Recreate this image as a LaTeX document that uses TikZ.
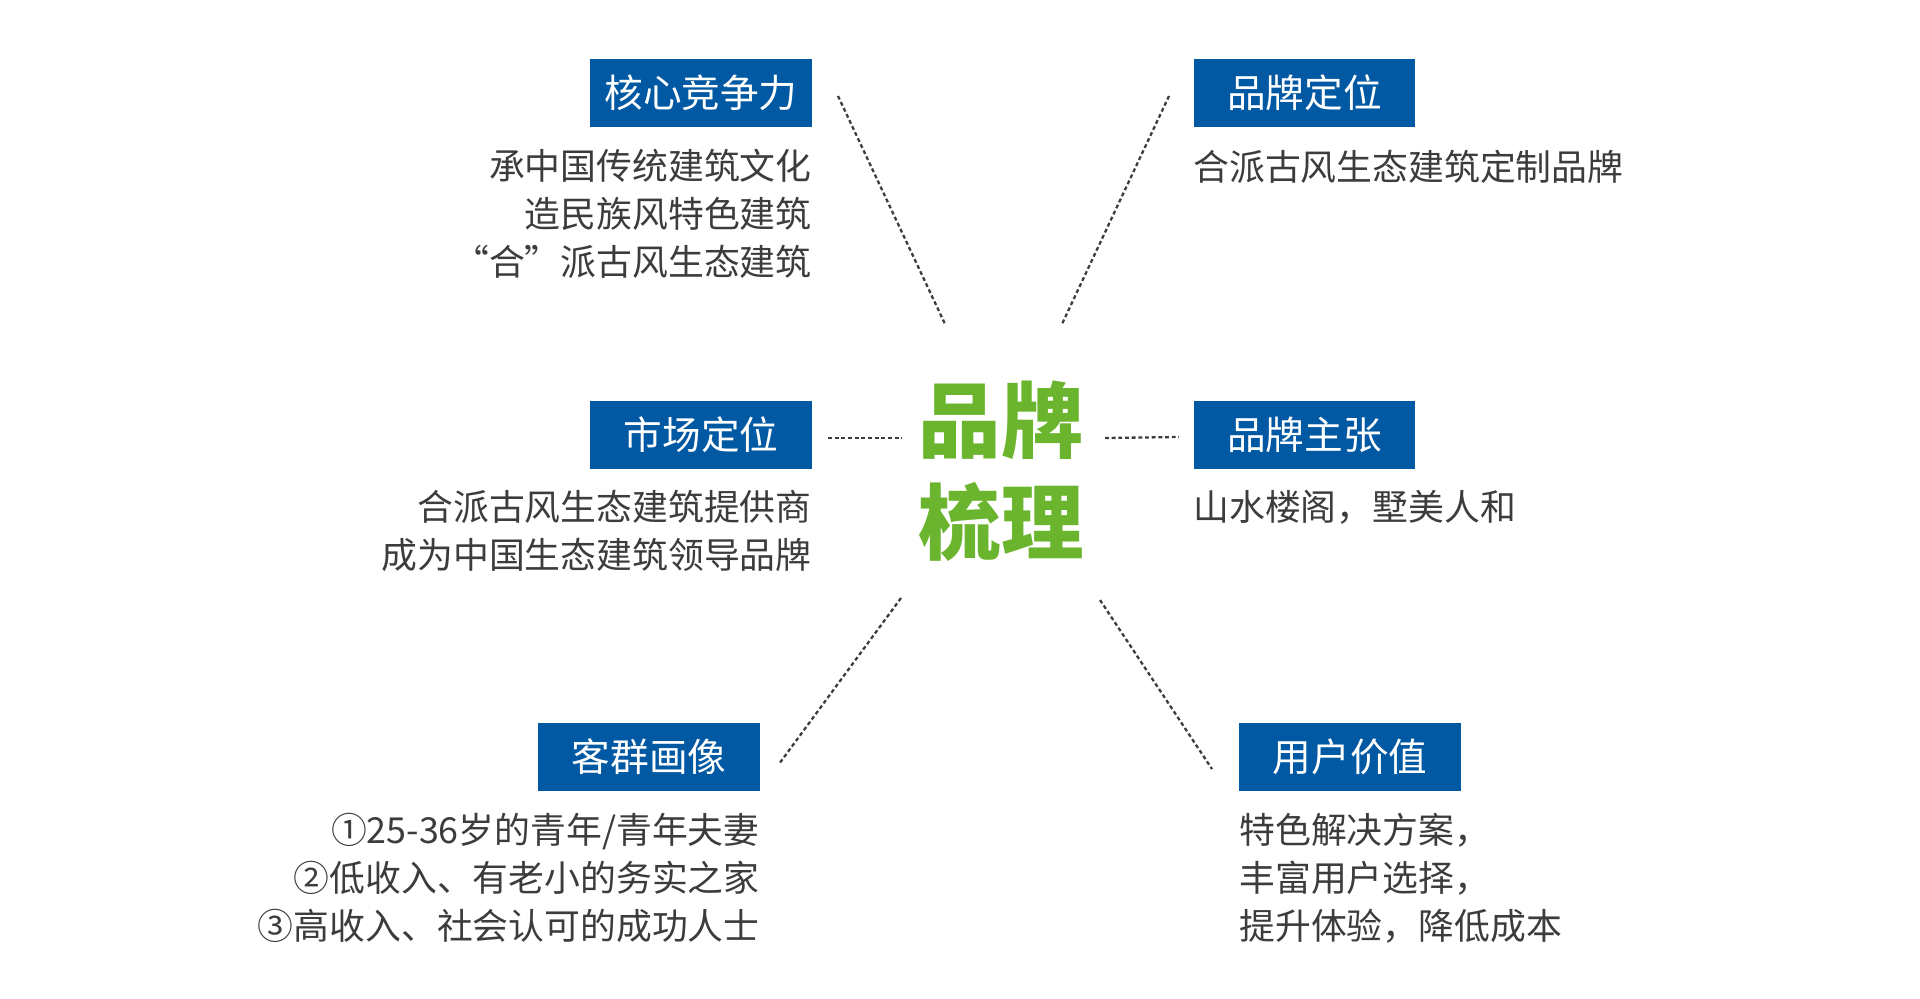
\documentclass[tikz,border=0pt]{standalone}
\usepackage{fontspec}
\newfontfamily\cjk{Noto Sans CJK SC}
\usepackage{tikz}
\usepackage{xcolor}
\definecolor{boxblue}{HTML}{0059A2}
\definecolor{titlegreen}{HTML}{6BB52E}
\definecolor{textgray}{HTML}{3C3C3C}

\tikzset{
  tagbox/.style={fill=boxblue, text=white, minimum width=4.44cm, minimum height=1.36cm,
    inner sep=0pt, font=\cjk\fontsize{22}{26}\selectfont},
  desc/.style={text=textgray, inner sep=0pt, font=\cjk\fontsize{20.4}{27.2}\selectfont},
  dots/.style={textgray, line width=1.3pt, dash pattern=on 2.2pt off 1.6pt}
}

\begin{document}
\begin{tikzpicture}[x=0.02cm,y=-0.02cm]
\useasboundingbox (0,0) rectangle (1920,998);
% Title
\node[text=titlegreen, inner sep=0pt, align=center, anchor=base,
  font=\cjk\bfseries\fontsize{47}{58}\selectfont] (title) at (1001.5,553) {品牌\\梳理};
% Boxes
\node[tagbox] (core) at (701,93) {核心竞争力};
\node[tagbox] (position) at (1304.5,93) {品牌定位};
\node[tagbox] (market) at (701,434.5) {市场定位};
\node[tagbox] (claim) at (1304.5,434.5) {品牌主张};
\node[tagbox] (client) at (649,756.5) {客群画像};
\node[tagbox] (value) at (1350,756.5) {用户价值};
% Texts (base = last line)
\node[desc, align=right, anchor=base east] (coretxt) at (812,275.5) {承中国传统建筑文化\\造民族风特色建筑\\“合”派古风生态建筑};
\node[desc, align=left, anchor=base west] (positiontxt) at (1193,180) {合派古风生态建筑定制品牌};
\node[desc, align=right, anchor=base east] (markettxt) at (812,568) {合派古风生态建筑提供商\\成为中国生态建筑领导品牌};
\node[desc, align=left, anchor=base west] (claimtxt) at (1193,520.5) {山水楼阁，墅美人和};
\node[desc, align=right, anchor=base east] (clienttxt) at (760,939) {①25-36岁的青年/青年夫妻\\②低收入、有老小的务实之家\\③高收入、社会认可的成功人士};
\node[desc, align=left, anchor=base west] (valuetxt) at (1239,939) {特色解决方案，\\丰富用户选择，\\提升体验，降低成本};
% Dotted lines
\coordinate (tl1) at (838,96);  \coordinate (tl2) at (945,324);
\coordinate (tr1) at (1169,96); \coordinate (tr2) at (1062,324);
\coordinate (ml1) at (828,438); \coordinate (ml2) at (902,438);
\coordinate (mr1) at (1105,438); \coordinate (mr2) at (1179,437);
\coordinate (bl1) at (901,598); \coordinate (bl2) at (779,764);
\coordinate (br1) at (1100,600); \coordinate (br2) at (1212,769);
\draw[dots] (tl1) -- (tl2);
\draw[dots] (tr1) -- (tr2);
\draw[dots] (ml1) -- (ml2);
\draw[dots] (mr1) -- (mr2);
\draw[dots] (bl1) -- (bl2);
\draw[dots] (br1) -- (br2);
\end{tikzpicture}
\end{document}
